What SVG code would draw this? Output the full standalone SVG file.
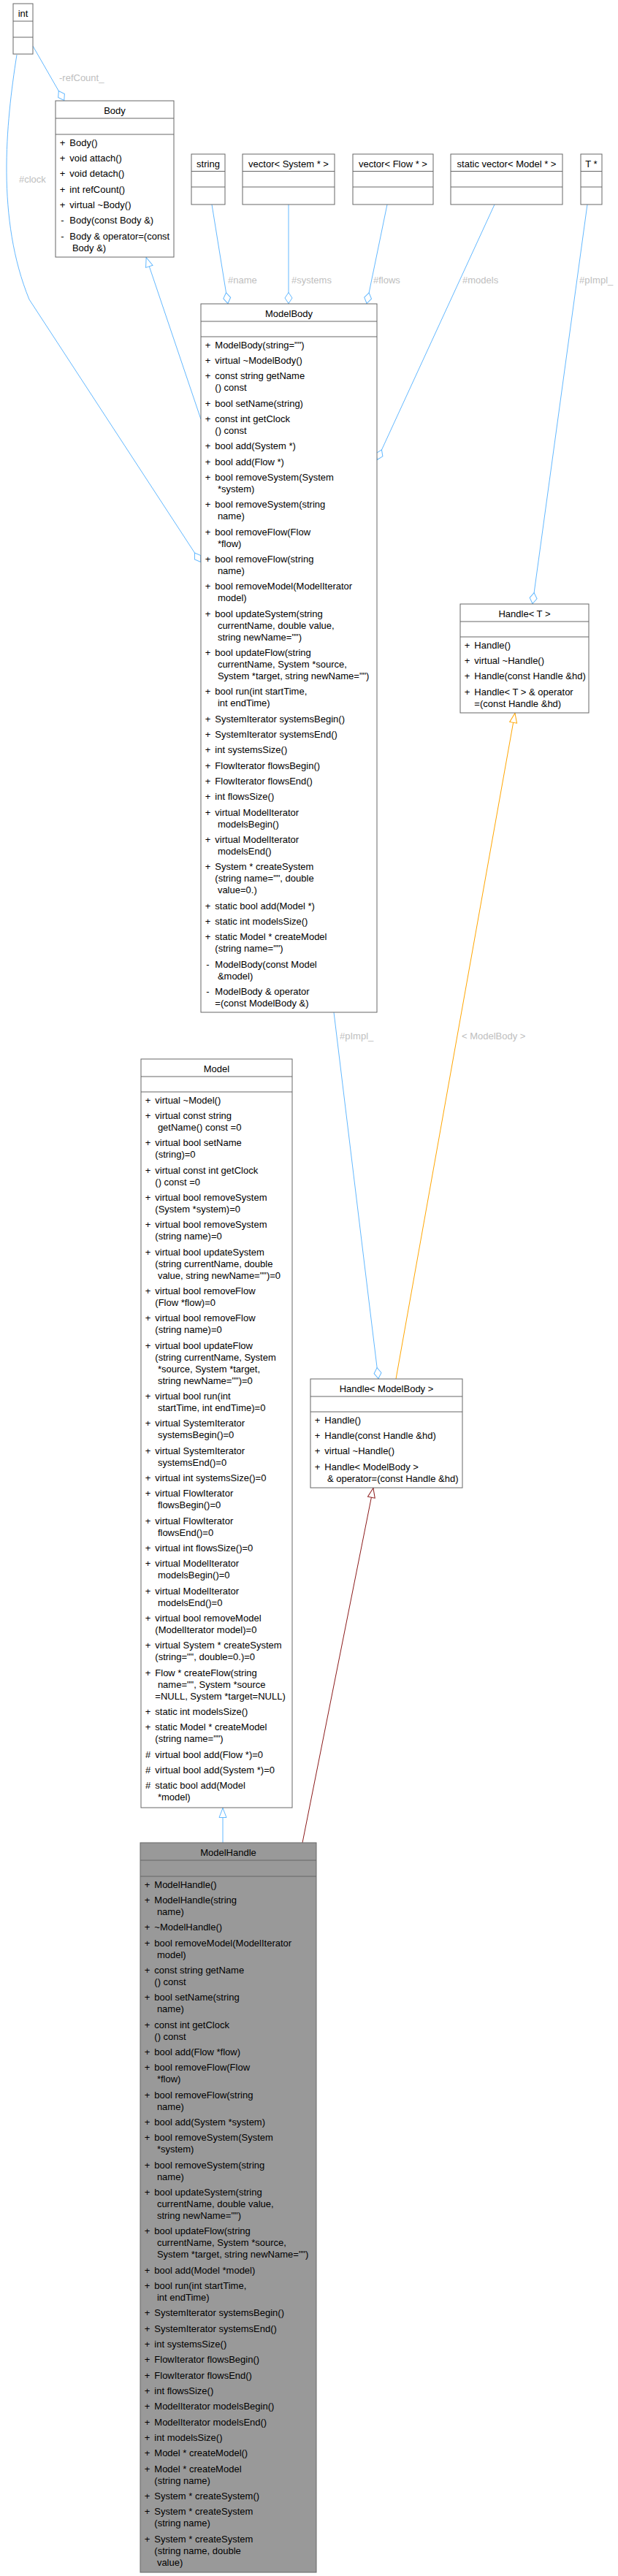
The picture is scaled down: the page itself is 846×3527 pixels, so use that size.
<svg xmlns="http://www.w3.org/2000/svg" width="846" height="3527" viewBox="0 0 846 3527">
<style>
text{font-family:"Liberation Sans",Arial,Helvetica,sans-serif;font-size:13px;fill:#000}
.box{fill:#fff;stroke:#666;stroke-width:1}
.main{fill:#999}
.sep{stroke:#666;stroke-width:1}
.c{text-anchor:middle}
.lbl{fill:#bebebe}
.e{fill:none;stroke-width:1}
.blue{stroke:#63b8ff}
.orange{stroke:#ffa500}
.red{stroke:#8b1a1a}
</style>
<defs>
<marker id="dB" markerUnits="userSpaceOnUse" markerWidth="16" markerHeight="12" viewBox="-16 -6 16 12" refX="0" refY="0" orient="auto" overflow="visible"><path d="M-0.5,0 L-8,-5 L-15.5,0 L-8,5 Z" fill="#fff" stroke="#63b8ff"/></marker>
<marker id="tB" markerUnits="userSpaceOnUse" markerWidth="16" markerHeight="12" viewBox="-16 -6 16 12" refX="0" refY="0" orient="auto" overflow="visible"><path d="M-0.5,0 L-13.5,-5 L-13.5,5 Z" fill="#fff" stroke="#63b8ff"/></marker>
<marker id="tO" markerUnits="userSpaceOnUse" markerWidth="16" markerHeight="12" viewBox="-16 -6 16 12" refX="0" refY="0" orient="auto" overflow="visible"><path d="M-0.5,0 L-13.5,-5 L-13.5,5 Z" fill="#fff" stroke="#ffa500"/></marker>
<marker id="tR" markerUnits="userSpaceOnUse" markerWidth="16" markerHeight="12" viewBox="-16 -6 16 12" refX="0" refY="0" orient="auto" overflow="visible"><path d="M-0.5,0 L-13.5,-5 L-13.5,5 Z" fill="#fff" stroke="#8b1a1a"/></marker>
</defs>
<rect width="846" height="3527" fill="#fff"/>

<g id="edges">
<path class="e blue" d="M45,63 L88,138" marker-end="url(#dB)"/>
<text class="lbl" x="81" y="111">-refCount_</text>
<path class="e blue" d="M23,75 C8,170 -5,300 40,410 L275,770" marker-end="url(#dB)"/>
<text class="lbl" x="26" y="250">#clock</text>
<path class="e blue" d="M290,280 L312,416" marker-end="url(#dB)"/>
<text class="lbl" x="312" y="388">#name</text>
<path class="e blue" d="M395,280 L395,416" marker-end="url(#dB)"/>
<text class="lbl" x="399" y="388">#systems</text>
<path class="e blue" d="M530,280 L502,416" marker-end="url(#dB)"/>
<text class="lbl" x="511" y="388">#flows</text>
<path class="e blue" d="M677,280 L516,630" marker-end="url(#dB)"/>
<text class="lbl" x="633" y="388">#models</text>
<path class="e blue" d="M804,280 L729,827" marker-end="url(#dB)"/>
<text class="lbl" x="793" y="388">#pImpl_</text>
<path class="e blue" d="M275,574 L200,352" marker-end="url(#tB)"/>
<path class="e blue" d="M457,1386 L518,1888" marker-end="url(#dB)"/>
<text class="lbl" x="465" y="1423">#pImpl_</text>
<path class="e orange" d="M542,1888 L705,976" marker-end="url(#tO)"/>
<text class="lbl" x="632" y="1423">&lt; ModelBody &gt;</text>
<path class="e red" d="M414,2523 L511,2037" marker-end="url(#tR)"/>
<path class="e blue" d="M305,2523 L305,2475" marker-end="url(#tB)"/>
</g>

<g id="int">
<rect class="box" x="18" y="5" width="27" height="69"/>
<line class="sep" x1="18" y1="29" x2="45" y2="29"/>
<line class="sep" x1="18" y1="51" x2="45" y2="51"/>
<text class="c" x="31.5" y="23">int</text>
</g>

<g id="string">
<rect class="box" x="262" y="211" width="46" height="69"/>
<line class="sep" x1="262" y1="234.5" x2="308" y2="234.5"/>
<line class="sep" x1="262" y1="256" x2="308" y2="256"/>
<text class="c" x="285" y="229">string</text>
</g>

<g id="vectorSystem">
<rect class="box" x="332" y="211" width="126" height="69"/>
<line class="sep" x1="332" y1="234.5" x2="458" y2="234.5"/>
<line class="sep" x1="332" y1="256" x2="458" y2="256"/>
<text class="c" x="395" y="229">vector&lt; System * &gt;</text>
</g>

<g id="vectorFlow">
<rect class="box" x="483" y="211" width="110" height="69"/>
<line class="sep" x1="483" y1="234.5" x2="593" y2="234.5"/>
<line class="sep" x1="483" y1="256" x2="593" y2="256"/>
<text class="c" x="538" y="229">vector&lt; Flow * &gt;</text>
</g>

<g id="vectorModel">
<rect class="box" x="617" y="211" width="153" height="69"/>
<line class="sep" x1="617" y1="234.5" x2="770" y2="234.5"/>
<line class="sep" x1="617" y1="256" x2="770" y2="256"/>
<text class="c" x="693.5" y="229">static vector&lt; Model * &gt;</text>
</g>

<g id="Tptr">
<rect class="box" x="795" y="211" width="29" height="69"/>
<line class="sep" x1="795" y1="234.5" x2="824" y2="234.5"/>
<line class="sep" x1="795" y1="256" x2="824" y2="256"/>
<text class="c" x="809.5" y="229">T *</text>
</g>

<g id="Body">
<rect class="box" x="76" y="138" width="162" height="214"/>
<line class="sep" x1="76" y1="162" x2="238" y2="162"/>
<line class="sep" x1="76" y1="184" x2="238" y2="184"/>
<text class="c" x="157" y="156">Body</text>
<text class="c" x="85.5" y="199.5">+</text><text x="95.3" y="199.5">Body()</text>
<text class="c" x="85.5" y="220.8">+</text><text x="95.3" y="220.8">void attach()</text>
<text class="c" x="85.5" y="242.2">+</text><text x="95.3" y="242.2">void detach()</text>
<text class="c" x="85.5" y="263.5">+</text><text x="95.3" y="263.5">int refCount()</text>
<text class="c" x="85.5" y="284.8">+</text><text x="95.3" y="284.8">virtual ~Body()</text>
<text class="c" x="85.5" y="306.2">-</text><text x="95.3" y="306.2">Body(const Body &amp;)</text>
<text class="c" x="85.5" y="327.5">-</text><text x="95.3" y="327.5">Body &amp; operator=(const</text>
<text x="98.9" y="343.5">Body &amp;)</text>
</g>

<g id="ModelBody">
<rect class="box" x="275" y="416" width="241" height="970"/>
<line class="sep" x1="275" y1="440" x2="516" y2="440"/>
<line class="sep" x1="275" y1="461" x2="516" y2="461"/>
<text class="c" x="395.5" y="434">ModelBody</text>
<text class="c" x="284.5" y="476.5">+</text><text x="294.3" y="476.5">ModelBody(string="")</text>
<text class="c" x="284.5" y="497.8">+</text><text x="294.3" y="497.8">virtual ~ModelBody()</text>
<text class="c" x="284.5" y="519.2">+</text><text x="294.3" y="519.2">const string getName</text>
<text x="294.3" y="535.2">() const</text>
<text class="c" x="284.5" y="556.5">+</text><text x="294.3" y="556.5">bool setName(string)</text>
<text class="c" x="284.5" y="577.8">+</text><text x="294.3" y="577.8">const int getClock</text>
<text x="294.3" y="593.8">() const</text>
<text class="c" x="284.5" y="615.2">+</text><text x="294.3" y="615.2">bool add(System *)</text>
<text class="c" x="284.5" y="636.5">+</text><text x="294.3" y="636.5">bool add(Flow *)</text>
<text class="c" x="284.5" y="657.8">+</text><text x="294.3" y="657.8">bool removeSystem(System</text>
<text x="297.9" y="673.8">*system)</text>
<text class="c" x="284.5" y="695.2">+</text><text x="294.3" y="695.2">bool removeSystem(string</text>
<text x="297.9" y="711.2">name)</text>
<text class="c" x="284.5" y="732.5">+</text><text x="294.3" y="732.5">bool removeFlow(Flow</text>
<text x="297.9" y="748.5">*flow)</text>
<text class="c" x="284.5" y="769.8">+</text><text x="294.3" y="769.8">bool removeFlow(string</text>
<text x="297.9" y="785.8">name)</text>
<text class="c" x="284.5" y="807.2">+</text><text x="294.3" y="807.2">bool removeModel(ModelIterator</text>
<text x="297.9" y="823.2">model)</text>
<text class="c" x="284.5" y="844.5">+</text><text x="294.3" y="844.5">bool updateSystem(string</text>
<text x="297.9" y="860.5">currentName, double value,</text>
<text x="297.9" y="876.5">string newName="")</text>
<text class="c" x="284.5" y="897.8">+</text><text x="294.3" y="897.8">bool updateFlow(string</text>
<text x="297.9" y="913.8">currentName, System *source,</text>
<text x="297.9" y="929.8">System *target, string newName="")</text>
<text class="c" x="284.5" y="951.2">+</text><text x="294.3" y="951.2">bool run(int startTime,</text>
<text x="297.9" y="967.2">int endTime)</text>
<text class="c" x="284.5" y="988.5">+</text><text x="294.3" y="988.5">SystemIterator systemsBegin()</text>
<text class="c" x="284.5" y="1009.8">+</text><text x="294.3" y="1009.8">SystemIterator systemsEnd()</text>
<text class="c" x="284.5" y="1031.2">+</text><text x="294.3" y="1031.2">int systemsSize()</text>
<text class="c" x="284.5" y="1052.5">+</text><text x="294.3" y="1052.5">FlowIterator flowsBegin()</text>
<text class="c" x="284.5" y="1073.8">+</text><text x="294.3" y="1073.8">FlowIterator flowsEnd()</text>
<text class="c" x="284.5" y="1095.2">+</text><text x="294.3" y="1095.2">int flowsSize()</text>
<text class="c" x="284.5" y="1116.5">+</text><text x="294.3" y="1116.5">virtual ModelIterator</text>
<text x="297.9" y="1132.5">modelsBegin()</text>
<text class="c" x="284.5" y="1153.8">+</text><text x="294.3" y="1153.8">virtual ModelIterator</text>
<text x="297.9" y="1169.8">modelsEnd()</text>
<text class="c" x="284.5" y="1191.2">+</text><text x="294.3" y="1191.2">System * createSystem</text>
<text x="294.3" y="1207.2">(string name="", double</text>
<text x="297.9" y="1223.2">value=0.)</text>
<text class="c" x="284.5" y="1244.5">+</text><text x="294.3" y="1244.5">static bool add(Model *)</text>
<text class="c" x="284.5" y="1265.8">+</text><text x="294.3" y="1265.8">static int modelsSize()</text>
<text class="c" x="284.5" y="1287.2">+</text><text x="294.3" y="1287.2">static Model * createModel</text>
<text x="294.3" y="1303.2">(string name="")</text>
<text class="c" x="284.5" y="1324.5">-</text><text x="294.3" y="1324.5">ModelBody(const Model</text>
<text x="297.9" y="1340.5">&amp;model)</text>
<text class="c" x="284.5" y="1361.8">-</text><text x="294.3" y="1361.8">ModelBody &amp; operator</text>
<text x="294.3" y="1377.8">=(const ModelBody &amp;)</text>
</g>

<g id="HandleT">
<rect class="box" x="630" y="827" width="176" height="149"/>
<line class="sep" x1="630" y1="851" x2="806" y2="851"/>
<line class="sep" x1="630" y1="872" x2="806" y2="872"/>
<text class="c" x="718" y="845">Handle&lt; T &gt;</text>
<text class="c" x="639.5" y="887.5">+</text><text x="649.3" y="887.5">Handle()</text>
<text class="c" x="639.5" y="908.8">+</text><text x="649.3" y="908.8">virtual ~Handle()</text>
<text class="c" x="639.5" y="930.2">+</text><text x="649.3" y="930.2">Handle(const Handle &amp;hd)</text>
<text class="c" x="639.5" y="951.5">+</text><text x="649.3" y="951.5">Handle&lt; T &gt; &amp; operator</text>
<text x="649.3" y="967.5">=(const Handle &amp;hd)</text>
</g>

<g id="Model">
<rect class="box" x="193" y="1450" width="207" height="1025"/>
<line class="sep" x1="193" y1="1474" x2="400" y2="1474"/>
<line class="sep" x1="193" y1="1495" x2="400" y2="1495"/>
<text class="c" x="296.5" y="1468">Model</text>
<text class="c" x="202.5" y="1510.5">+</text><text x="212.3" y="1510.5">virtual ~Model()</text>
<text class="c" x="202.5" y="1531.8">+</text><text x="212.3" y="1531.8">virtual const string</text>
<text x="215.9" y="1547.8">getName() const =0</text>
<text class="c" x="202.5" y="1569.2">+</text><text x="212.3" y="1569.2">virtual bool setName</text>
<text x="212.3" y="1585.2">(string)=0</text>
<text class="c" x="202.5" y="1606.5">+</text><text x="212.3" y="1606.5">virtual const int getClock</text>
<text x="212.3" y="1622.5">() const =0</text>
<text class="c" x="202.5" y="1643.8">+</text><text x="212.3" y="1643.8">virtual bool removeSystem</text>
<text x="212.3" y="1659.8">(System *system)=0</text>
<text class="c" x="202.5" y="1681.2">+</text><text x="212.3" y="1681.2">virtual bool removeSystem</text>
<text x="212.3" y="1697.2">(string name)=0</text>
<text class="c" x="202.5" y="1718.5">+</text><text x="212.3" y="1718.5">virtual bool updateSystem</text>
<text x="212.3" y="1734.5">(string currentName, double</text>
<text x="215.9" y="1750.5">value, string newName="")=0</text>
<text class="c" x="202.5" y="1771.8">+</text><text x="212.3" y="1771.8">virtual bool removeFlow</text>
<text x="212.3" y="1787.8">(Flow *flow)=0</text>
<text class="c" x="202.5" y="1809.2">+</text><text x="212.3" y="1809.2">virtual bool removeFlow</text>
<text x="212.3" y="1825.2">(string name)=0</text>
<text class="c" x="202.5" y="1846.5">+</text><text x="212.3" y="1846.5">virtual bool updateFlow</text>
<text x="212.3" y="1862.5">(string currentName, System</text>
<text x="215.9" y="1878.5">*source, System *target,</text>
<text x="215.9" y="1894.5">string newName="")=0</text>
<text class="c" x="202.5" y="1915.8">+</text><text x="212.3" y="1915.8">virtual bool run(int</text>
<text x="215.9" y="1931.8">startTime, int endTime)=0</text>
<text class="c" x="202.5" y="1953.2">+</text><text x="212.3" y="1953.2">virtual SystemIterator</text>
<text x="215.9" y="1969.2">systemsBegin()=0</text>
<text class="c" x="202.5" y="1990.5">+</text><text x="212.3" y="1990.5">virtual SystemIterator</text>
<text x="215.9" y="2006.5">systemsEnd()=0</text>
<text class="c" x="202.5" y="2027.8">+</text><text x="212.3" y="2027.8">virtual int systemsSize()=0</text>
<text class="c" x="202.5" y="2049.2">+</text><text x="212.3" y="2049.2">virtual FlowIterator</text>
<text x="215.9" y="2065.2">flowsBegin()=0</text>
<text class="c" x="202.5" y="2086.5">+</text><text x="212.3" y="2086.5">virtual FlowIterator</text>
<text x="215.9" y="2102.5">flowsEnd()=0</text>
<text class="c" x="202.5" y="2123.8">+</text><text x="212.3" y="2123.8">virtual int flowsSize()=0</text>
<text class="c" x="202.5" y="2145.2">+</text><text x="212.3" y="2145.2">virtual ModelIterator</text>
<text x="215.9" y="2161.2">modelsBegin()=0</text>
<text class="c" x="202.5" y="2182.5">+</text><text x="212.3" y="2182.5">virtual ModelIterator</text>
<text x="215.9" y="2198.5">modelsEnd()=0</text>
<text class="c" x="202.5" y="2219.8">+</text><text x="212.3" y="2219.8">virtual bool removeModel</text>
<text x="212.3" y="2235.8">(ModelIterator model)=0</text>
<text class="c" x="202.5" y="2257.2">+</text><text x="212.3" y="2257.2">virtual System * createSystem</text>
<text x="212.3" y="2273.2">(string="", double=0.)=0</text>
<text class="c" x="202.5" y="2294.5">+</text><text x="212.3" y="2294.5">Flow * createFlow(string</text>
<text x="215.9" y="2310.5">name="", System *source</text>
<text x="212.3" y="2326.5">=NULL, System *target=NULL)</text>
<text class="c" x="202.5" y="2347.8">+</text><text x="212.3" y="2347.8">static int modelsSize()</text>
<text class="c" x="202.5" y="2369.2">+</text><text x="212.3" y="2369.2">static Model * createModel</text>
<text x="212.3" y="2385.2">(string name="")</text>
<text class="c" x="202.5" y="2406.5">#</text><text x="212.3" y="2406.5">virtual bool add(Flow *)=0</text>
<text class="c" x="202.5" y="2427.8">#</text><text x="212.3" y="2427.8">virtual bool add(System *)=0</text>
<text class="c" x="202.5" y="2449.2">#</text><text x="212.3" y="2449.2">static bool add(Model</text>
<text x="215.9" y="2465.2">*model)</text>
</g>

<g id="HandleModelBody">
<rect class="box" x="425" y="1888" width="208" height="149"/>
<line class="sep" x1="425" y1="1912" x2="633" y2="1912"/>
<line class="sep" x1="425" y1="1933" x2="633" y2="1933"/>
<text class="c" x="529" y="1906">Handle&lt; ModelBody &gt;</text>
<text class="c" x="434.5" y="1948.5">+</text><text x="444.3" y="1948.5">Handle()</text>
<text class="c" x="434.5" y="1969.8">+</text><text x="444.3" y="1969.8">Handle(const Handle &amp;hd)</text>
<text class="c" x="434.5" y="1991.2">+</text><text x="444.3" y="1991.2">virtual ~Handle()</text>
<text class="c" x="434.5" y="2012.5">+</text><text x="444.3" y="2012.5">Handle&lt; ModelBody &gt;</text>
<text x="447.9" y="2028.5">&amp; operator=(const Handle &amp;hd)</text>
</g>

<g id="ModelHandle">
<rect class="box main" x="192" y="2523" width="241" height="999"/>
<line class="sep" x1="192" y1="2547" x2="433" y2="2547"/>
<line class="sep" x1="192" y1="2569" x2="433" y2="2569"/>
<text class="c" x="312.5" y="2541">ModelHandle</text>
<text class="c" x="201.5" y="2584.5">+</text><text x="211.3" y="2584.5">ModelHandle()</text>
<text class="c" x="201.5" y="2605.8">+</text><text x="211.3" y="2605.8">ModelHandle(string</text>
<text x="214.9" y="2621.8">name)</text>
<text class="c" x="201.5" y="2643.2">+</text><text x="211.3" y="2643.2">~ModelHandle()</text>
<text class="c" x="201.5" y="2664.5">+</text><text x="211.3" y="2664.5">bool removeModel(ModelIterator</text>
<text x="214.9" y="2680.5">model)</text>
<text class="c" x="201.5" y="2701.8">+</text><text x="211.3" y="2701.8">const string getName</text>
<text x="211.3" y="2717.8">() const</text>
<text class="c" x="201.5" y="2739.2">+</text><text x="211.3" y="2739.2">bool setName(string</text>
<text x="214.9" y="2755.2">name)</text>
<text class="c" x="201.5" y="2776.5">+</text><text x="211.3" y="2776.5">const int getClock</text>
<text x="211.3" y="2792.5">() const</text>
<text class="c" x="201.5" y="2813.8">+</text><text x="211.3" y="2813.8">bool add(Flow *flow)</text>
<text class="c" x="201.5" y="2835.2">+</text><text x="211.3" y="2835.2">bool removeFlow(Flow</text>
<text x="214.9" y="2851.2">*flow)</text>
<text class="c" x="201.5" y="2872.5">+</text><text x="211.3" y="2872.5">bool removeFlow(string</text>
<text x="214.9" y="2888.5">name)</text>
<text class="c" x="201.5" y="2909.8">+</text><text x="211.3" y="2909.8">bool add(System *system)</text>
<text class="c" x="201.5" y="2931.2">+</text><text x="211.3" y="2931.2">bool removeSystem(System</text>
<text x="214.9" y="2947.2">*system)</text>
<text class="c" x="201.5" y="2968.5">+</text><text x="211.3" y="2968.5">bool removeSystem(string</text>
<text x="214.9" y="2984.5">name)</text>
<text class="c" x="201.5" y="3005.8">+</text><text x="211.3" y="3005.8">bool updateSystem(string</text>
<text x="214.9" y="3021.8">currentName, double value,</text>
<text x="214.9" y="3037.8">string newName="")</text>
<text class="c" x="201.5" y="3059.2">+</text><text x="211.3" y="3059.2">bool updateFlow(string</text>
<text x="214.9" y="3075.2">currentName, System *source,</text>
<text x="214.9" y="3091.2">System *target, string newName="")</text>
<text class="c" x="201.5" y="3112.5">+</text><text x="211.3" y="3112.5">bool add(Model *model)</text>
<text class="c" x="201.5" y="3133.8">+</text><text x="211.3" y="3133.8">bool run(int startTime,</text>
<text x="214.9" y="3149.8">int endTime)</text>
<text class="c" x="201.5" y="3171.2">+</text><text x="211.3" y="3171.2">SystemIterator systemsBegin()</text>
<text class="c" x="201.5" y="3192.5">+</text><text x="211.3" y="3192.5">SystemIterator systemsEnd()</text>
<text class="c" x="201.5" y="3213.8">+</text><text x="211.3" y="3213.8">int systemsSize()</text>
<text class="c" x="201.5" y="3235.2">+</text><text x="211.3" y="3235.2">FlowIterator flowsBegin()</text>
<text class="c" x="201.5" y="3256.5">+</text><text x="211.3" y="3256.5">FlowIterator flowsEnd()</text>
<text class="c" x="201.5" y="3277.8">+</text><text x="211.3" y="3277.8">int flowsSize()</text>
<text class="c" x="201.5" y="3299.2">+</text><text x="211.3" y="3299.2">ModelIterator modelsBegin()</text>
<text class="c" x="201.5" y="3320.5">+</text><text x="211.3" y="3320.5">ModelIterator modelsEnd()</text>
<text class="c" x="201.5" y="3341.8">+</text><text x="211.3" y="3341.8">int modelsSize()</text>
<text class="c" x="201.5" y="3363.2">+</text><text x="211.3" y="3363.2">Model * createModel()</text>
<text class="c" x="201.5" y="3384.5">+</text><text x="211.3" y="3384.5">Model * createModel</text>
<text x="211.3" y="3400.5">(string name)</text>
<text class="c" x="201.5" y="3421.8">+</text><text x="211.3" y="3421.8">System * createSystem()</text>
<text class="c" x="201.5" y="3443.2">+</text><text x="211.3" y="3443.2">System * createSystem</text>
<text x="211.3" y="3459.2">(string name)</text>
<text class="c" x="201.5" y="3480.5">+</text><text x="211.3" y="3480.5">System * createSystem</text>
<text x="211.3" y="3496.5">(string name, double</text>
<text x="214.9" y="3512.5">value)</text>
</g>
</svg>
